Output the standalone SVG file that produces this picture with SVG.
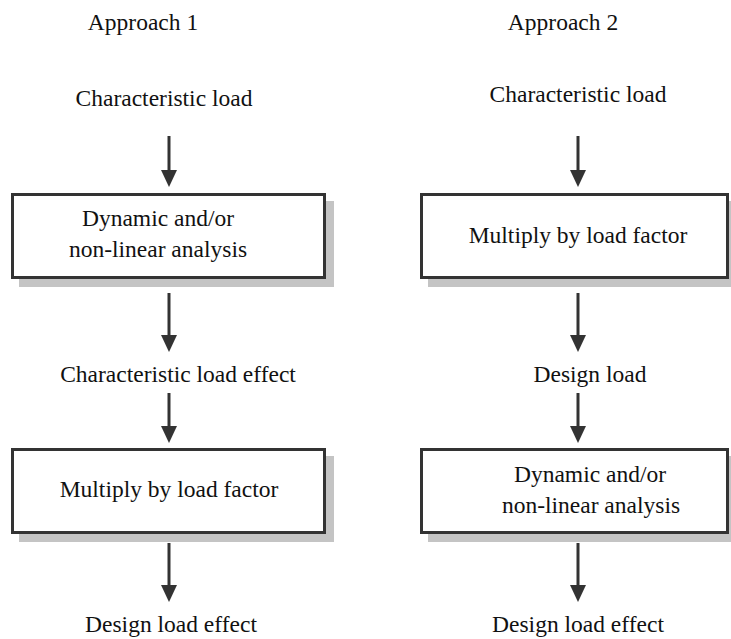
<svg xmlns="http://www.w3.org/2000/svg" width="731" height="639" viewBox="0 0 731 639">
<defs>
<style>
text{font-size:23.5px;fill:#111;text-anchor:middle}
.box{fill:#fff;stroke:#333;stroke-width:3}
.shadow{fill:#c4c4c4}
.line{stroke:#333;stroke-width:3;fill:none}
.head{fill:#333}
</style>
</defs>
<rect width="731" height="639" fill="#fff"/>
<g font-family="Liberation Serif, Times New Roman, DejaVu Serif, serif">
<g id="labels">
<text x="143" y="30">Approach 1</text>
<text x="563" y="30">Approach 2</text>
</g>
<g id="connectors">
<line class="line" x1="169" y1="136" x2="169" y2="172"/><polygon class="head" points="161,170 177,170 169,187"/>
<line class="line" x1="169" y1="293" x2="169" y2="337"/><polygon class="head" points="161,335 177,335 169,352"/>
<line class="line" x1="169" y1="393" x2="169" y2="428"/><polygon class="head" points="161,426 177,426 169,443"/>
<line class="line" x1="169" y1="543" x2="169" y2="587"/><polygon class="head" points="161,585 177,585 169,602"/>
<line class="line" x1="578" y1="136" x2="578" y2="172"/><polygon class="head" points="570,170 586,170 578,187"/>
<line class="line" x1="578" y1="293" x2="578" y2="337"/><polygon class="head" points="570,335 586,335 578,352"/>
<line class="line" x1="578" y1="393" x2="578" y2="428"/><polygon class="head" points="570,426 586,426 578,443"/>
<line class="line" x1="578" y1="543" x2="578" y2="587"/><polygon class="head" points="570,585 586,585 578,602"/>
</g>
<g id="n1-char-load"><text x="164" y="106">Characteristic load</text></g>
<g id="n1-dynamic">
<rect class="shadow" x="19" y="201" width="315" height="86"/>
<rect class="box" x="12.5" y="194.5" width="312" height="83"/>
<text x="158" y="226">Dynamic and/or</text>
<text x="158" y="257">non-linear analysis</text>
</g>
<g id="n1-char-effect"><text x="178" y="382">Characteristic load effect</text></g>
<g id="n1-multiply">
<rect class="shadow" x="19" y="456" width="315" height="86"/>
<rect class="box" x="12.5" y="449.5" width="312" height="83"/>
<text x="169" y="497">Multiply by load factor</text>
</g>
<g id="n1-design-effect"><text x="171" y="632">Design load effect</text></g>
<g id="n2-char-load"><text x="578" y="102">Characteristic load</text></g>
<g id="n2-multiply">
<rect class="shadow" x="428" y="201" width="315" height="86"/>
<rect class="box" x="421.5" y="194.5" width="306" height="83"/>
<text x="578" y="243">Multiply by load factor</text>
</g>
<g id="n2-design-load"><text x="590" y="382">Design load</text></g>
<g id="n2-dynamic">
<rect class="shadow" x="428" y="456" width="315" height="86"/>
<rect class="box" x="421.5" y="449.5" width="306" height="83"/>
<text x="590" y="482">Dynamic and/or</text>
<text x="591" y="513">non-linear analysis</text>
</g>
<g id="n2-design-effect"><text x="578" y="632">Design load effect</text></g>
</g>
</svg>
